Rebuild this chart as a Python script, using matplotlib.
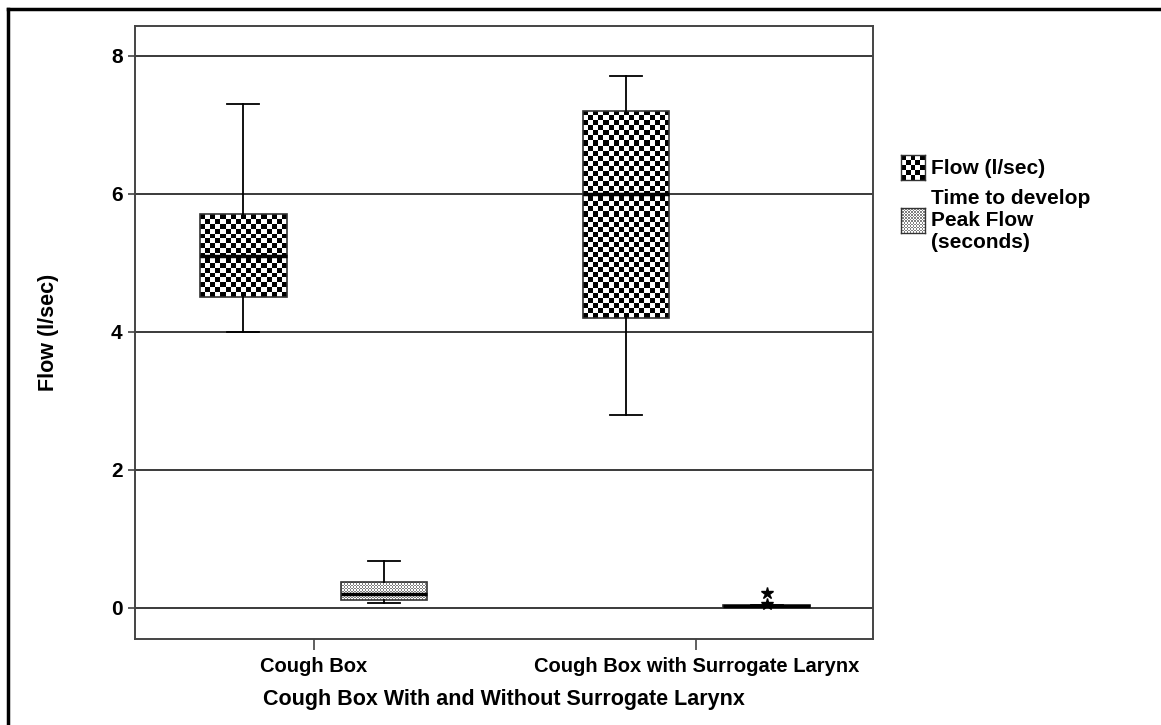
import numpy as np
import matplotlib
matplotlib.use("Agg")
import matplotlib.pyplot as plt
from matplotlib.lines import Line2D

plt.rcParams['font.family'] = ['Liberation Sans', 'DejaVu Sans']
plt.rcParams['font.weight'] = 'bold'

# data
groups = ["Cough Box", "Cough Box with Surrogate Larynx"]
flow_whislo = [4.0, 2.8]
flow_q1 = [4.5, 4.2]
flow_med = [5.1, 6.0]
flow_q3 = [5.7, 7.2]
flow_whishi = [7.3, 7.7]
time_whislo = [0.07, 0.02]
time_q1 = [0.12, 0.02]
time_med = [0.2, 0.03]
time_q3 = [0.38, 0.04]
time_whishi = [0.68, 0.04]
time_fliers = [[], [0.06, 0.22]]
yticks = [0, 2, 4, 6, 8]

W, H = 1161, 725
fig = plt.figure(figsize=(W / 100, H / 100), dpi=100)
ax = fig.add_axes([135 / W, 1 - 639 / H, (873 - 135) / W, (639 - 26) / H])
ax.set_xlim(-0.467, 1.462)
ax.set_ylim(-0.45, 8.43)

off = 0.184
bw = 0.226


def stats(lo, q1, med, q3, hi, fl=None):
    return [dict(whislo=lo[i], q1=q1[i], med=med[i], q3=q3[i], whishi=hi[i],
                 fliers=(fl[i] if fl else [])) for i in range(len(lo))]


pos = np.arange(len(groups))
common = dict(widths=bw, patch_artist=True, capwidths=0.084,
              medianprops=dict(color='black', lw=2.5),
              whiskerprops=dict(color='black', lw=1.3),
              capprops=dict(color='black', lw=1.3),
              boxprops=dict(edgecolor='#333333', lw=1.2, facecolor='white'),
              flierprops=dict(marker='*', markersize=9, markerfacecolor='black',
                              markeredgecolor='black'))
b1 = ax.bxp(stats(flow_whislo, flow_q1, flow_med, flow_q3, flow_whishi),
            positions=pos - off, **common)
b2 = ax.bxp(stats(time_whislo, time_q1, time_med, time_q3, time_whishi, time_fliers),
            positions=pos + off, **common)


def pattern(kind, nx, ny):
    yy, xx = np.mgrid[0:ny, 0:nx]
    if kind == 'checker':
        return ((xx + yy) % 2).astype(float)
    return np.where((xx + yy) % 2 == 0, 1.0, 0.5)


def fill_pattern(axis, patch, kind, cell):
    verts = patch.get_path().vertices
    x0, x1 = verts[:, 0].min(), verts[:, 0].max()
    y0, y1 = verts[:, 1].min(), verts[:, 1].max()
    p0 = axis.transData.transform((x0, y0))
    p1 = axis.transData.transform((x1, y1))
    nx = max(1, int(round(abs(p1[0] - p0[0]) / cell)))
    ny = max(1, int(round(abs(p1[1] - p0[1]) / cell)))
    im = axis.imshow(pattern(kind, nx, ny), extent=(x0, x1, y0, y1), cmap='gray',
                     vmin=0, vmax=1, interpolation='nearest', aspect='auto',
                     zorder=patch.get_zorder() + 0.1)
    im.set_clip_path(patch)


for p in b1['boxes']:
    fill_pattern(ax, p, 'checker', 5)
for p in b2['boxes']:
    fill_pattern(ax, p, 'dots', 1.5)
for k in ['medians', 'whiskers', 'caps', 'fliers']:
    for a in b1[k] + b2[k]:
        a.set_zorder(4)
for p in b1['boxes'] + b2['boxes']:
    p.set_facecolor('none')
    p.set_zorder(3.5)

ax.set_xlim(-0.467, 1.462)
ax.set_ylim(-0.45, 8.43)
ax.set_yticks(yticks)
ax.set_yticklabels([str(v) for v in yticks], fontsize=15, fontweight='bold')
ax.set_xticks(pos)
ax.set_xticklabels(groups, fontsize=14.5, fontweight='bold')
ax.yaxis.grid(True, color='#3a3a3a', lw=1.4)
ax.set_axisbelow(True)
ax.tick_params(axis='y', length=5, width=1.2, color='#444444', pad=4)
ax.tick_params(axis='x', length=8, width=1.2, color='#444444', pad=5)
for s in ax.spines.values():
    s.set_color('#444444')
    s.set_linewidth(1.4)
ax.set_ylabel("Flow (l/sec)", fontsize=15.5, fontweight='bold', labelpad=37)
ax.set_xlabel("Cough Box With and Without Surrogate Larynx", fontsize=15.5,
              fontweight='bold', labelpad=9)

# legend drawn by hand so the patterns match
lg = [("checker", 4.8, 155, ["Flow (l/sec)"], 168),
      ("dots", 1.5, 208, ["Time to develop", "Peak Flow", "(seconds)"], 199)]
for kind, cell, ytop, lines, ytxt in lg:
    lax = fig.add_axes([901 / W, 1 - (ytop + 25) / H, 24 / W, 25 / H])
    lax.set_xlim(0, 1)
    lax.set_ylim(0, 1)
    lax.imshow(pattern(kind, int(24 / cell), int(25 / cell)), extent=(0, 1, 0, 1),
               cmap='gray', vmin=0, vmax=1, interpolation='nearest', aspect='auto')
    lax.set_xticks([])
    lax.set_yticks([])
    for s in lax.spines.values():
        s.set_color('#333333')
        s.set_linewidth(1.0)
    for i, t in enumerate(lines):
        fig.text(931 / W, 1 - (ytxt + 21.5 * i) / H, t, fontsize=15,
                 fontweight='bold', va='center', ha='left')

# outer frame (top and left edges visible)
fig.add_artist(Line2D([8 / W, 1], [1 - 9 / H, 1 - 9 / H], color='black', lw=2.5,
                      transform=fig.transFigure))
fig.add_artist(Line2D([8 / W, 8 / W], [0, 1 - 9 / H], color='black', lw=2.5,
                      transform=fig.transFigure))

fig.savefig("out.png", dpi=100)
